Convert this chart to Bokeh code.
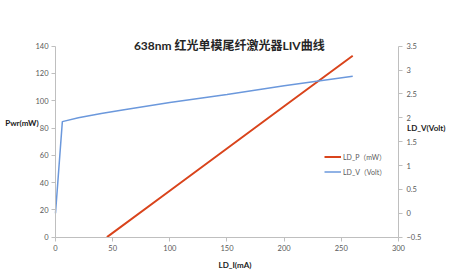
from bokeh.plotting import figure
from bokeh.models import Range1d, LinearAxis, FixedTicker, Label, Legend, LegendItem
from bokeh.embed import file_html
from bokeh.resources import INLINE

# Data
ld_i_p = [45, 100, 150, 200, 260]
ld_p = [0, 34, 65, 96, 133]
ld_i_v = [0, 6, 20, 40, 60, 100, 150, 200, 260]
ld_v = [0.0, 1.92, 2.0, 2.09, 2.17, 2.32, 2.49, 2.67, 2.87]

x_ticks = [0, 50, 100, 150, 200, 250, 300]
p_ticks = [0, 20, 40, 60, 80, 100, 120, 140]
v_ticks = [-0.5, 0, 0.5, 1, 1.5, 2, 2.5, 3, 3.5]

title_text = "638nm 红光单模尾纤激光器LIV曲线"
FONT = "Lato, 'Noto Sans CJK SC'"
TICK_COLOR = "#595959"
AXIS_COLOR = "#bfbfbf"

# frame covers the whole canvas; axes sit at fixed locations inside it
p = figure(width=451, height=278, output_backend="svg", toolbar_location=None,
           x_range=Range1d(-48.1, 346.4), y_range=Range1d(-30.3, 173.5),
           x_axis_location=None, y_axis_location=None,
           min_border_left=0, min_border_right=0, min_border_top=0, min_border_bottom=0)
p.extra_y_ranges = {"v": Range1d(-30.3 / 35 - 0.5, 173.5 / 35 - 0.5)}
p.outline_line_color = None
p.grid.visible = False
p.background_fill_color = "white"
p.border_fill_color = "white"


def style(ax, standoff):
    ax.axis_line_color = AXIS_COLOR
    ax.major_tick_line_color = AXIS_COLOR
    ax.minor_tick_line_color = None
    ax.major_tick_in = 0
    ax.major_tick_out = 4
    ax.major_label_text_font = FONT
    ax.major_label_text_font_size = "7.5px"
    ax.major_label_text_color = TICK_COLOR
    ax.major_label_standoff = standoff


xax = LinearAxis(ticker=FixedTicker(ticks=x_ticks), fixed_location=0, bounds=(0, 300))
style(xax, 4)
p.add_layout(xax, "below")

lax = LinearAxis(ticker=FixedTicker(ticks=p_ticks), fixed_location=0, bounds=(0, 140))
style(lax, 3)
p.add_layout(lax, "left")

rax = LinearAxis(y_range_name="v", ticker=FixedTicker(ticks=v_ticks), fixed_location=300,
                 bounds=(-0.5, 3.5))
style(rax, 4)
p.add_layout(rax, "right")

r_p = p.line(ld_i_p, ld_p, line_color="#d9441c", line_width=2)
r_v = p.line(ld_i_v, ld_v, line_color="#6b98dc", line_width=1.5, y_range_name="v")

legend = Legend(items=[LegendItem(label="LD_P（mW）", renderers=[r_p]),
                       LegendItem(label="LD_V（Volt）", renderers=[r_v])],
                location=(324, 101), orientation="vertical")
legend.background_fill_alpha = 0
legend.border_line_color = None
legend.label_text_font = FONT
legend.label_text_font_size = "7px"
legend.label_text_color = TICK_COLOR
legend.glyph_width = 17
legend.glyph_height = 11
legend.label_height = 11
legend.label_standoff = 2
legend.spacing = 4
legend.padding = 2
p.add_layout(legend, "center")


def add_label(x, y, text, size, align="left", bold=True, color="#1a1a1a"):
    lab = Label(x=x, y=y, text=text, text_font=FONT, text_font_size=size,
                text_font_style="bold" if bold else "normal", text_color=color,
                text_align=align, text_baseline="middle")
    p.add_layout(lab)


add_label(152, 140.5, title_text, "12px", align="center", color="#262626")
add_label(-44, 83.4, "Pwr(mW)", "8px")
add_label(307.5, 79.7, "LD_V(Volt)", "8px")
add_label(157, -20.7, "LD_I(mA)", "8px", align="center")

open("out.html", "w").write(file_html(p, INLINE))
